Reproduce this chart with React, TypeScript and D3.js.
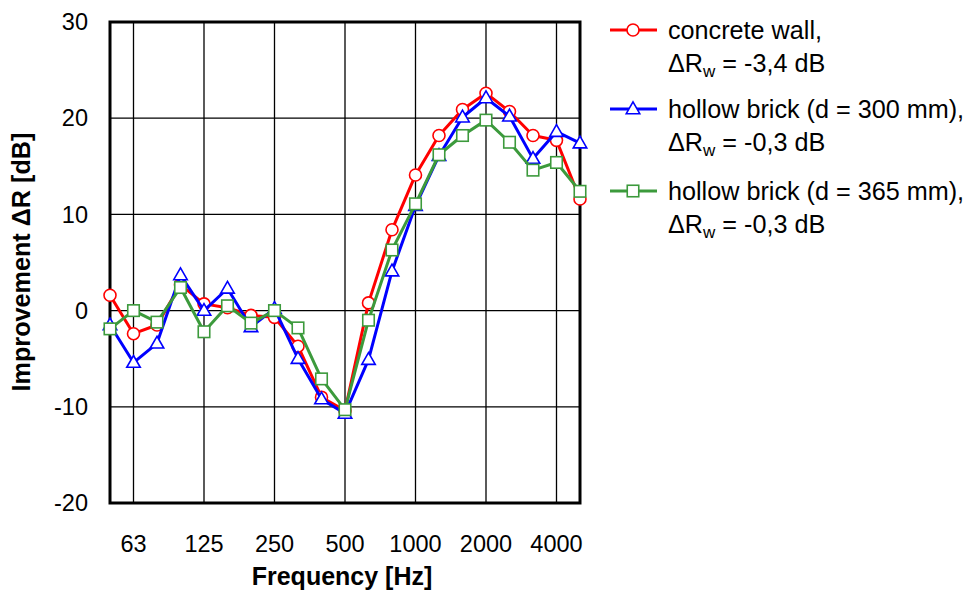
import React from "react";
import * as d3 from "d3";

const bands = ["50","63","80","100","125","160","200","250","315","400","500","630","800","1000","1250","1600","2000","2500","3150","4000","5000"];
const tickBands = ["63","125","250","500","1000","2000","4000"];
const yTicks = [30, 20, 10, 0, -10, -20];

const concrete = [1.6, -2.4, -1.5, 2.7, 0.7, 0.3, -0.5, -0.7, -3.7, -9.0, -10.4, 0.8, 8.4, 14.1, 18.2, 20.9, 22.6, 20.7, 18.2, 17.7, 11.6];
const brick300 = [-1.5, -5.4, -3.4, 3.7, 0.0, 2.3, -1.7, 0.2, -5.0, -9.2, -10.7, -5.1, 4.1, 10.9, 16.1, 20.1, 22.1, 20.2, 15.8, 18.6, 17.4];
const brick365 = [-1.9, 0.0, -1.2, 2.4, -2.2, 0.5, -1.3, 0.0, -1.8, -7.1, -10.3, -1.0, 6.3, 11.1, 16.2, 18.2, 19.8, 17.5, 14.6, 15.4, 12.4];

const seriesNames = ["concrete wall,", "hollow brick (d = 300 mm),", "hollow brick (d = 365 mm),"];
const seriesRw = ["-3,4 dB", "-0,3 dB", "-0,3 dB"];

const FONT = "'Liberation Sans', Arial, sans-serif";

type Series = { values: number[]; color: string; marker: "circle" | "triangle" | "square" };

const series: Series[] = [
  { values: concrete, color: "#ff0000", marker: "circle" },
  { values: brick300, color: "#0000ff", marker: "triangle" },
  { values: brick365, color: "#3c9a3c", marker: "square" },
];

function Marker({ kind, x, y, color }: { kind: string; x: number; y: number; color: string }) {
  if (kind === "circle") return <circle cx={x} cy={y} r={6} fill="#fff" stroke={color} strokeWidth={1.6} />;
  if (kind === "triangle") {
    const s = 13.5;
    const h = s * 0.87;
    const p = `${x},${y - h * 0.6} ${x + s / 2},${y + h * 0.4} ${x - s / 2},${y + h * 0.4}`;
    return <polygon points={p} fill="#fff" stroke={color} strokeWidth={1.6} />;
  }
  const s = 11.5;
  return <rect x={x - s / 2} y={y - s / 2} width={s} height={s} fill="#fff" stroke={color} strokeWidth={1.6} />;
}

export default function App() {
  const left = 110, right = 580, top = 22, bottom = 503;
  const x = d3.scaleLinear().domain([0, bands.length - 1]).range([left, right]);
  const y = d3.scaleLinear().domain([-20, 30]).range([bottom, top]);
  const line = d3.line<number>().x((_, i) => x(i)).y((d) => y(d));

  const legendY = [30, 109, 191];

  return (
    <svg width={973} height={590} style={{ position: "absolute", left: 0, top: 0, background: "#fff" }} fontFamily={FONT}>
      <rect width={973} height={590} fill="#fff" />
      {yTicks.map((t) => (
        <line key={"h" + t} x1={left} x2={right} y1={y(t)} y2={y(t)} stroke="#000" strokeWidth={1.3} />
      ))}
      {tickBands.map((b) => {
        const i = bands.indexOf(b);
        return <line key={"v" + b} x1={x(i)} x2={x(i)} y1={top} y2={bottom} stroke="#000" strokeWidth={1.3} />;
      })}
      <rect x={left} y={top} width={right - left} height={bottom - top} fill="none" stroke="#000" strokeWidth={3} />
      {yTicks.map((t) => (
        <text key={"yl" + t} x={88} y={y(t)} dy="0.35em" textAnchor="end" fontSize={23.5} fill="#000">{t}</text>
      ))}
      {tickBands.map((b) => {
        const i = bands.indexOf(b);
        return <text key={"xl" + b} x={x(i)} y={552} textAnchor="middle" fontSize={23.5} fill="#000">{b}</text>;
      })}
      <text x={342} y={585} textAnchor="middle" fontSize={25} fontWeight="bold" fill="#000">Frequency [Hz]</text>
      <text transform={`translate(30,262) rotate(-90)`} textAnchor="middle" fontSize={25.2} fontWeight="bold" fill="#000">Improvement ΔR [dB]</text>
      {series.map((s, si) => (
        <g key={"s" + si}>
          <path d={line(s.values) || ""} fill="none" stroke={s.color} strokeWidth={3} strokeLinejoin="round" />
          {s.values.map((v, i) => (
            <Marker key={i} kind={s.marker} x={x(i)} y={y(v)} color={s.color} />
          ))}
        </g>
      ))}
      {series.map((s, si) => {
        const ly = legendY[si];
        return (
          <g key={"lg" + si}>
            <line x1={610} x2={657} y1={ly} y2={ly} stroke={s.color} strokeWidth={3} />
            <Marker kind={s.marker} x={633} y={ly} color={s.color} />
            <text x={668} y={ly} dy="0.35em" fontSize={25.2} fill="#000">{seriesNames[si]}</text>
            <text x={668} y={ly + 33} dy="0.35em" fontSize={25.2} fill="#000">
              ΔR<tspan fontSize={17} dy={5}>w</tspan><tspan dy={-5}> = {seriesRw[si]}</tspan>
            </text>
          </g>
        );
      })}
    </svg>
  );
}
